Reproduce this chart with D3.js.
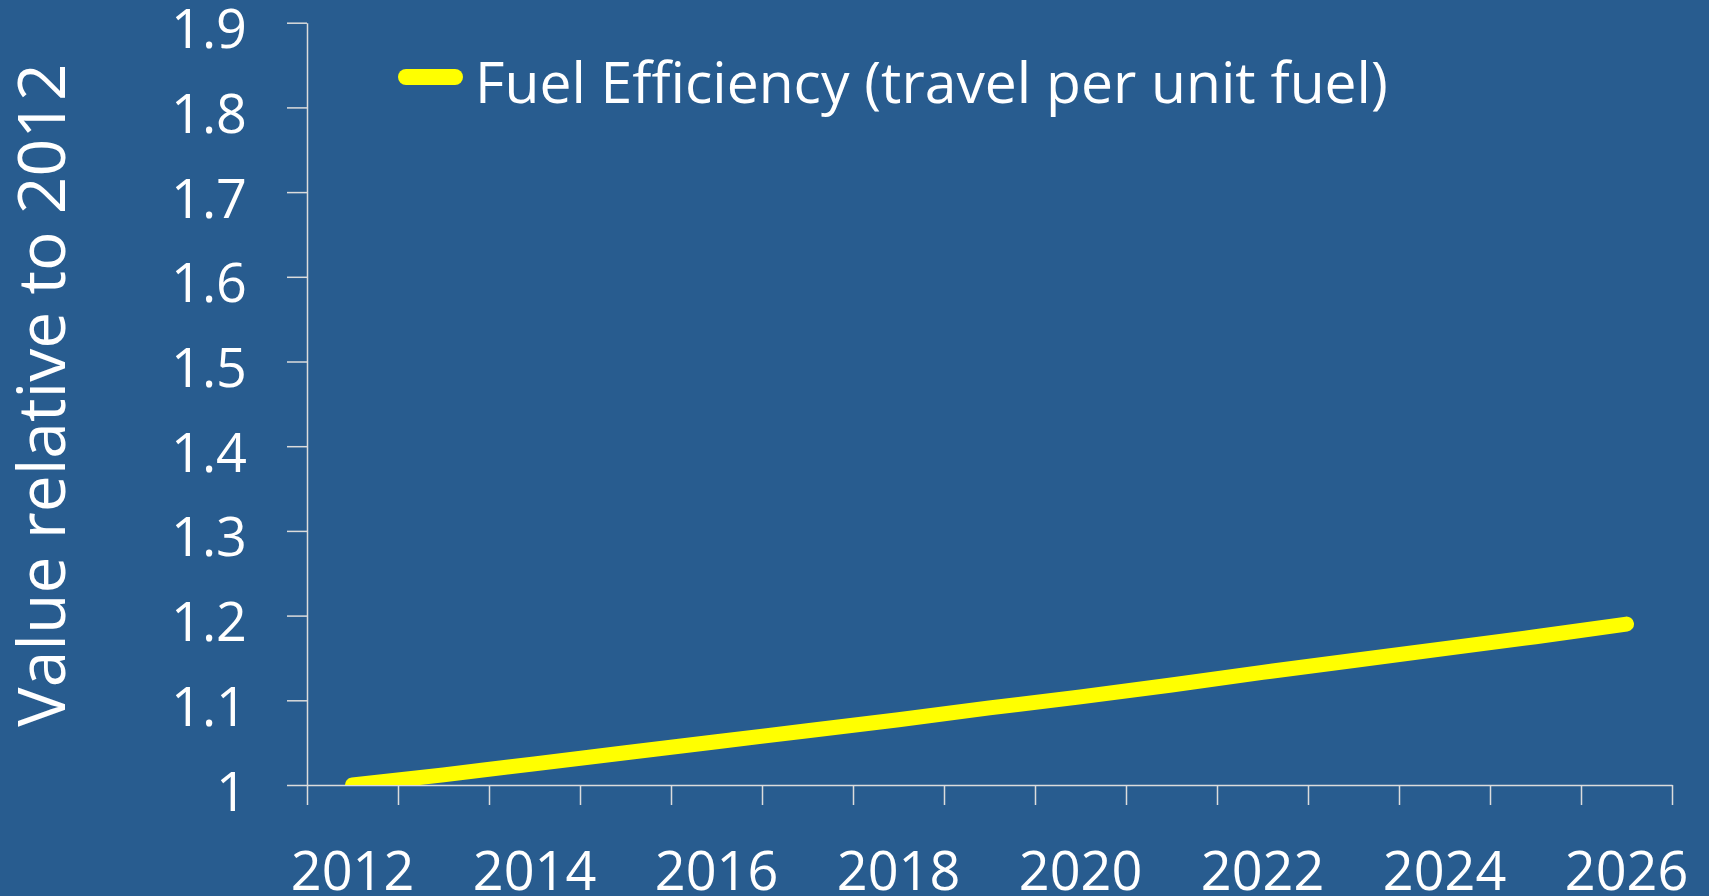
<!DOCTYPE html>
<html>
<head>
<meta charset="utf-8">
<script src="https://cdn.jsdelivr.net/npm/d3@7"></script>
<style>
  html, body { margin: 0; padding: 0; background: #285c8f; overflow: hidden; }
  svg text { font-family: "Open Sans", "Noto Sans", sans-serif; fill: #ffffff; }
  .axis path, .axis line { stroke: #dcdcdc; stroke-width: 1.5; }
</style>
</head>
<body>
<div id="chart"></div>
<script>
// chart data
const years = d3.range(2012, 2027).map(String);
const fuelEfficiency = [1.000, 1.012, 1.025, 1.038, 1.051, 1.064, 1.077, 1.091,
                        1.104, 1.118, 1.133, 1.147, 1.161, 1.175, 1.190];
const labelYears = ["2012", "2014", "2016", "2018", "2020", "2022", "2024", "2026"];
const yTicks = [1, 1.1, 1.2, 1.3, 1.4, 1.5, 1.6, 1.7, 1.8, 1.9];
const seriesName = "Fuel Efficiency (travel per unit fuel)";
const yTitle = "Value relative to 2012";

const config = {
  width: 1709,
  height: 896,
  margin: { top: 22.7, right: 37, bottom: 111, left: 307 },
  lineColor: "#ffff00",
  lineWidth: 15,
  tickSize: 20,
};

const width = config.width - config.margin.left - config.margin.right;
const height = config.height - config.margin.top - config.margin.bottom;

const svg = d3.select("#chart")
  .append("svg")
  .attr("width", config.width)
  .attr("height", config.height);

svg.append("rect")
  .attr("width", config.width)
  .attr("height", config.height)
  .attr("fill", "#285c8f");

const chart = svg.append("g")
  .attr("transform", `translate(${config.margin.left},${config.margin.top})`);

const x = d3.scaleBand().domain(years).range([0, width]).padding(0);
const xEdge = d3.scaleLinear().domain([0, years.length]).range([0, width]);
const y = d3.scaleLinear().domain([1, 1.9]).range([height, 0]);

// y axis
const yAxis = chart.append("g")
  .attr("class", "axis")
  .call(d3.axisLeft(y)
    .tickValues(yTicks)
    .tickSize(config.tickSize)
    .tickSizeOuter(0)
    .tickPadding(40)
    .tickFormat(d => String(+d.toFixed(1))));
yAxis.selectAll("text")
  .attr("dy", 25)
  .style("font-size", "54px");

// x axis: tick marks between categories
chart.append("g")
  .attr("class", "axis")
  .attr("transform", `translate(0,${height})`)
  .call(d3.axisBottom(xEdge)
    .tickValues(d3.range(years.length + 1))
    .tickSize(config.tickSize)
    .tickSizeOuter(0)
    .tickFormat(""));

// x labels on every other year
const xLabels = chart.append("g")
  .attr("transform", `translate(0,${height})`)
  .call(d3.axisBottom(x)
    .tickValues(labelYears)
    .tickSize(0));
xLabels.select(".domain").remove();
xLabels.selectAll("text")
  .attr("y", 105)
  .attr("dy", 0)
  .style("font-size", "54px");

// clip the line to the plot area
svg.append("defs")
  .append("clipPath")
  .attr("id", "plot-clip")
  .append("rect")
  .attr("width", width)
  .attr("height", height);

const line = d3.line()
  .x((d, i) => x(years[i]) + x.bandwidth() / 2)
  .y(d => y(d));

chart.append("path")
  .datum(fuelEfficiency)
  .attr("clip-path", "url(#plot-clip)")
  .attr("fill", "none")
  .attr("stroke", config.lineColor)
  .attr("stroke-width", config.lineWidth)
  .attr("stroke-linecap", "round")
  .attr("stroke-linejoin", "round")
  .attr("d", line);

// legend
const legend = svg.append("g")
  .attr("transform", "translate(406,77)");
legend.append("line")
  .attr("x1", 0)
  .attr("x2", 49)
  .attr("stroke", config.lineColor)
  .attr("stroke-width", 16)
  .attr("stroke-linecap", "round");
legend.append("text")
  .attr("x", 69)
  .attr("y", 26)
  .style("font-size", "57px")
  .text(seriesName);

// y axis title
svg.append("text")
  .attr("transform", "translate(65,395) rotate(-90)")
  .attr("text-anchor", "middle")
  .style("font-size", "66px")
  .text(yTitle);
</script>
</body>
</html>
